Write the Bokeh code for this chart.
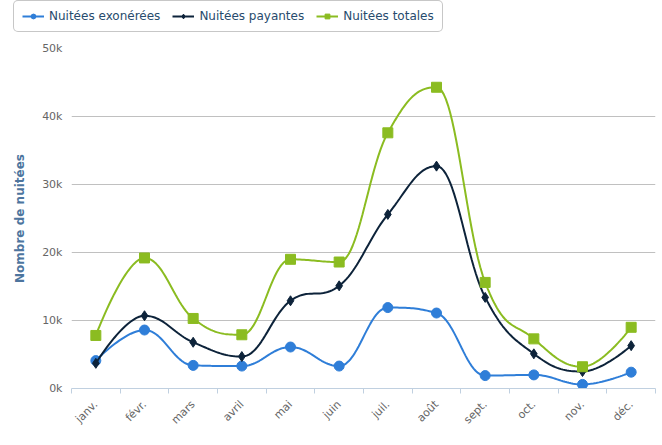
import numpy as np
from bokeh.plotting import figure
from bokeh.layouts import column
from bokeh.models import (Range1d, FixedTicker, Legend, LegendItem)
from bokeh.embed import file_html
from bokeh.resources import INLINE

months = ["janv.", "févr.", "mars", "avril", "mai", "juin", "juil.", "août",
          "sept.", "oct.", "nov.", "déc."]
exonerees = [4100, 8600, 3400, 3300, 6100, 3300, 11900, 11100, 1900, 2000, 600, 2400]
payantes = [3700, 10700, 6800, 4700, 12900, 15100, 25600, 32700, 13400, 5100, 2500, 6300]
totales = [7800, 19200, 10300, 7900, 19000, 18600, 37600, 44300, 15600, 7300, 3200, 9000]
y_ticks = [0, 10000, 20000, 30000, 40000, 50000]
y_tick_labels = ["0k", "10k", "20k", "30k", "40k", "50k"]

FONT = "DejaVu Sans"


def spline(xs, ys, n=24, smoothing=1.5):
    """Highcharts-style spline path through the given points."""
    xs = list(map(float, xs)); ys = list(map(float, ys))
    m = len(xs)
    lc = [(xs[i], ys[i]) for i in range(m)]
    rc = [(xs[i], ys[i]) for i in range(m)]
    denom = smoothing + 1
    for i in range(1, m - 1):
        px, py = xs[i], ys[i]
        lx, ly = xs[i - 1], ys[i - 1]
        nx, ny = xs[i + 1], ys[i + 1]
        lcx = (smoothing * px + lx) / denom
        lcy = (smoothing * py + ly) / denom
        rcx = (smoothing * px + nx) / denom
        rcy = (smoothing * py + ny) / denom
        if rcx != lcx:
            corr = ((rcy - lcy) * (rcx - px)) / (rcx - lcx) + py - rcy
            lcy += corr
            rcy += corr
        if lcy > ly and lcy > py:
            lcy = max(ly, py); rcy = 2 * py - lcy
        elif lcy < ly and lcy < py:
            lcy = min(ly, py); rcy = 2 * py - lcy
        if rcy > ny and rcy > py:
            rcy = max(ny, py); lcy = 2 * py - rcy
        elif rcy < ny and rcy < py:
            rcy = min(ny, py); lcy = 2 * py - rcy
        lc[i] = (lcx, lcy)
        rc[i] = (rcx, rcy)
    ox, oy = [], []
    t = np.linspace(0, 1, n)
    for i in range(m - 1):
        p0 = np.array([xs[i], ys[i]])
        c0 = np.array(rc[i])
        c1 = np.array(lc[i + 1])
        p1 = np.array([xs[i + 1], ys[i + 1]])
        pts = ((1 - t) ** 3)[:, None] * p0 + (3 * (1 - t) ** 2 * t)[:, None] * c0 \
            + (3 * (1 - t) * t ** 2)[:, None] * c1 + (t ** 3)[:, None] * p1
        start = 0 if i == 0 else 1
        ox.extend(pts[start:, 0]); oy.extend(pts[start:, 1])
    return ox, oy


xidx = list(range(len(months)))

series = [
    ("Nuitées exonérées", exonerees, "#2f7ed8", "circle", 10),
    ("Nuitées payantes", payantes, "#0d233a", "diamond", 10),
    ("Nuitées totales", totales, "#8bbc21", "square", 10),
]

# ---- main chart ----
p = figure(width=662, height=405, output_backend="svg", toolbar_location=None,
           x_range=Range1d(-0.5, len(months) - 0.5), y_range=Range1d(0, 50000),
           min_border_left=71, min_border_right=7, min_border_top=8,
           min_border_bottom=57)
p.outline_line_color = None
p.background_fill_color = "white"
p.border_fill_color = "white"

# ---- legend strip ----
lg = figure(width=662, height=40, output_backend="svg", toolbar_location=None,
            x_range=Range1d(100, 101), y_range=Range1d(100, 101),
            x_axis_location=None, y_axis_location=None, min_border=0)
lg.grid.visible = False
lg.outline_line_color = None
lg.border_fill_color = "white"

legend_x = 13
for fig in (p, lg):
    try:
        fig.frame_align = False
    except Exception:
        legend_x = 13 - 71

items = []
for name, vals, color, marker, size in series:
    sx, sy = spline(xidx, vals)
    p.line(sx, sy, line_color=color, line_width=2)
    p.scatter(xidx, vals, marker=marker, size=size, fill_color=color,
              line_color=color)
    lr = lg.line(xidx, vals, line_color=color, line_width=2)
    sr = lg.scatter(xidx, vals, marker=marker, size=size - 2, fill_color=color,
                    line_color=color)
    items.append(LegendItem(label=name, renderers=[lr, sr]))

# axes
xa = p.xaxis[0]
xa.ticker = FixedTicker(ticks=xidx, minor_ticks=[i - 0.5 for i in range(len(months) + 1)])
xa.major_label_overrides = {i: m for i, m in enumerate(months)}
xa.major_label_orientation = np.pi / 4
xa.major_tick_out = 0
xa.major_tick_in = 0
xa.minor_tick_out = 5
xa.minor_tick_in = 0
xa.minor_tick_line_color = "#C0D0E0"
xa.axis_line_color = "#C0D0E0"
xa.major_label_text_color = "#666666"
xa.major_label_text_font = FONT
xa.major_label_text_font_size = "11px"
xa.major_label_standoff = 9

ya = p.yaxis[0]
ya.ticker = FixedTicker(ticks=y_ticks)
ya.major_label_overrides = {t: l for t, l in zip(y_ticks, y_tick_labels)}
ya.axis_line_color = None
ya.major_tick_line_color = None
ya.minor_tick_line_color = None
ya.major_tick_out = 0
ya.major_tick_in = 0
ya.minor_tick_out = 0
ya.minor_tick_in = 0
ya.major_label_text_color = "#666666"
ya.major_label_text_font = FONT
ya.major_label_text_font_size = "11px"
ya.major_label_standoff = 9
ya.axis_label = "Nombre de nuitées"
ya.axis_label_text_color = "#4d759e"
ya.axis_label_text_font = FONT
ya.axis_label_text_font_size = "12px"
ya.axis_label_text_font_style = "bold"
ya.axis_label_standoff = 12

p.xgrid.grid_line_color = None
p.ygrid.grid_line_color = "#C0C0C0"
p.ygrid.ticker = FixedTicker(ticks=y_ticks)

legend = Legend(items=items, orientation="horizontal", location=(legend_x, 8))
legend.label_text_font = FONT
legend.label_text_font_size = "12px"
legend.label_text_color = "#274b6d"
legend.label_height = 12
legend.glyph_width = 22
legend.glyph_height = 12
legend.label_standoff = 5
legend.spacing = 12
legend.padding = 8
legend.margin = 0
legend.border_line_color = "#909090"
legend.border_line_width = 1
legend.background_fill_color = "white"
legend.background_fill_alpha = 1
try:
    legend.border_radius = 5
except Exception:
    pass
lg.add_layout(legend, "center")

layout = column(lg, p, spacing=0)
open("out.html", "w").write(file_html(layout, INLINE))
